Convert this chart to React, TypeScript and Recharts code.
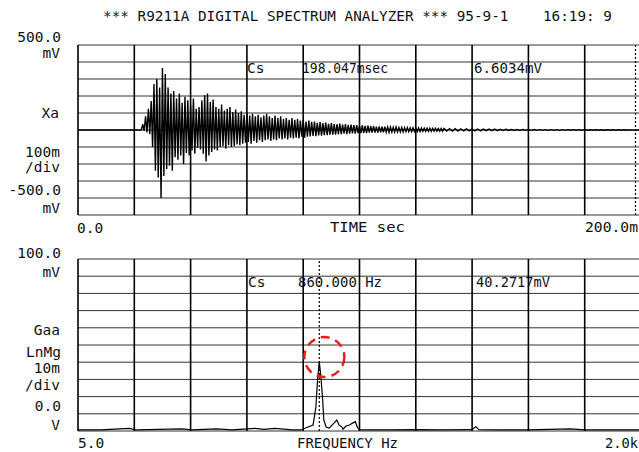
import React from 'react';
import { LineChart, Line, XAxis, YAxis, CartesianGrid, ReferenceLine, ReferenceDot } from 'recharts';

// ---- time record (top panel), envelope ----
const envTimeMs = [
  22, 23, 24, 25, 26, 27, 28, 29, 30, 31,
  32, 33, 34, 35, 36, 37, 38, 39, 40, 41,
  42, 43, 44, 45, 46, 47, 48, 49, 50, 51,
  52, 53, 54, 55, 56, 57, 58, 59, 60, 61,
  62, 63, 64, 65, 66, 67, 68, 69, 70, 71,
  72, 73, 74, 75, 76, 77, 78, 79, 80, 81,
  82, 83, 84, 85, 86, 87, 88, 89, 90, 91,
  92, 93, 94, 95, 96, 97, 98, 99, 100, 101,
  102, 103, 104, 105, 106, 107, 108, 109, 110, 111,
  112, 113, 114, 115, 116, 117, 118, 119, 120, 121,
  122, 123, 124, 125, 126, 127, 128, 129, 130, 132,
  134, 136, 138, 140, 142, 144, 146, 148, 150, 152,
  154, 156, 158, 160, 162, 164, 166, 168, 170, 172,
  174, 176, 178, 180, 182, 184, 186, 188, 190, 192,
  194, 196, 199,
];
const envHighMv = [
  0, 35, 80, 125, 170, 270, 300, 250, 365, 330,
  250, 215, 230, 185, 215, 160, 195, 175, 145, 185,
  125, 135, 175, 205, 215, 165, 180, 135, 125, 150,
  115, 125, 135, 105, 120, 100, 110, 90, 100, 85,
  95, 80, 90, 75, 85, 95, 80, 70, 85, 70,
  80, 65, 70, 60, 70, 60, 65, 55, 60, 50,
  55, 48, 50, 42, 46, 40, 44, 36, 40, 35,
  34, 38, 32, 34, 30, 31, 28, 29, 26, 27,
  24, 25, 22, 23, 20, 21, 19, 20, 18, 17,
  16, 17, 15, 15, 14, 14, 13, 13, 12, 12,
  11, 11, 11, 10, 10, 10, 9, 9, 9, 8,
  8, 7, 7, 6, 6, 5, 5, 5, 4, 4,
  3, 3, 3, 3, 3, 2, 2, 2, 2, 2,
  2, 2, 2, 2, 1, 1, 1, 1, 1, 1,
  1, 1, 0,
];
const envLowMv = [
  0, -5, -15, -25, -100, -240, -280, -400, -270, -230,
  -210, -240, -160, -175, -150, -200, -135, -150, -120, -140,
  -105, -115, -140, -185, -150, -130, -115, -120, -100, -95,
  -110, -90, -100, -95, -85, -90, -80, -75, -70, -80,
  -65, -75, -60, -70, -60, -55, -65, -55, -60, -50,
  -55, -50, -55, -45, -50, -45, -50, -40, -45, -40,
  -38, -35, -36, -32, -34, -30, -30, -28, -28, -27,
  -25, -24, -22, -24, -22, -20, -21, -19, -18, -17,
  -18, -16, -16, -15, -15, -14, -14, -13, -13, -12,
  -12, -11, -11, -11, -10, -10, -10, -9, -9, -9,
  -8, -8, -8, -8, -7, -7, -7, -7, -6, -6,
  -6, -5, -5, -5, -5, -4, -4, -4, -3, -3,
  -3, -3, -2, -2, -2, -2, -2, -2, -2, -2,
  -1, -1, -1, -1, -1, -1, -1, -1, -1, -1,
  -1, -1, 0,
];

// ---- spectrum (bottom panel) ----
const freqHz = [
  5, 87, 187, 212, 372, 408, 497, 550, 632, 664, 703, 764, 795, 820, 838, 848, 854, 860, 866, 872,
  876, 884, 895, 912, 922, 930, 940, 944, 955, 967, 978, 988, 994, 1000, 1010, 1100, 1200, 1300, 1400, 1415,
  1425, 1500, 1600, 1750, 1800, 1900, 2000,
];
const magMv = [
  0.6, 0.6, 1.5, 0.6, 1.2, 0.6, 1.2, 0.6, 1.5, 1.0, 1.5, 0.6, 0.6, 2.3, 3.5, 14, 30, 40.3, 31, 18,
  6.4, 2.3, 1.7, 4.6, 6.4, 3.5, 2.3, 1.0, 2.9, 3.5, 4.6, 5.4, 2.5, 1.0, 0.6, 0.6, 0.8, 0.6, 0.8, 2.5,
  0.8, 0.6, 0.7, 1.2, 0.6, 0.6, 0.6,
];

const timeTicks = [0, 20, 40, 60, 80, 100, 120, 140, 160, 180, 200];
const voltTicks = [-500, -400, -300, -200, -100, 0, 100, 200, 300, 400, 500];
const freqTicks = [5, 204.5, 404, 603.5, 803, 1002.5, 1202, 1401.5, 1601, 1800.5, 2000];
const magTicks = [0, 10, 20, 30, 40, 50, 60, 70, 80, 90, 100];

const waveData: { t: number; v: number }[] = [{ t: 0, v: 0 }];
envTimeMs.forEach((t, i) => {
  const next = i < envTimeMs.length - 1 ? envTimeMs[i + 1] : t + 1;
  waveData.push({ t, v: envHighMv[i] });
  waveData.push({ t: t + (next - t) / 2, v: envLowMv[i] });
});
waveData.push({ t: 200, v: 0 });

const specData = freqHz.map((f, i) => ({ f, m: magMv[i] }));

const FONT = '"DejaVu Sans Mono", "Liberation Mono", monospace';

const T: React.FC<{ x: number; y: number; w?: number; end?: boolean; size?: number; children: string }> = ({ x, y, w, end, size = 14.5, children }) => (
  <text
    x={x}
    y={y}
    fontFamily={FONT}
    fontSize={size}
    fill="#111"
    textAnchor={end ? 'end' : 'start'}
    textLength={w}
    lengthAdjust={w ? 'spacingAndGlyphs' : undefined}
    style={{ whiteSpace: 'pre' }}
  >
    {children}
  </text>
);

const App: React.FC = () => {
  return (
    <div style={{ position: 'absolute', left: 0, top: 0, width: 639, height: 452, overflow: 'hidden', background: '#fff' }}>
      <div style={{ position: 'absolute', left: 0, top: 0 }}>
        <LineChart width={645} height={240} data={waveData} margin={{ top: 45, right: 4, bottom: 25, left: 78 }}>
          <CartesianGrid horizontal vertical={false} stroke="#333" strokeWidth={1} />
          <CartesianGrid horizontal={false} vertical stroke="#000" strokeWidth={1.6} />
          <XAxis type="number" dataKey="t" domain={[0, 200]} ticks={timeTicks} interval={0} hide />
          <YAxis type="number" domain={[-500, 500]} ticks={voltTicks} interval={0} hide />
          <ReferenceLine x={198.047} stroke="#000" strokeDasharray="2 2" strokeWidth={1.2} />
          <Line type="linear" dataKey="v" stroke="#000" strokeWidth={1.4} dot={false} isAnimationActive={false} />
        </LineChart>
      </div>
      <div style={{ position: 'absolute', left: 0, top: 240 }}>
        <LineChart width={645} height={212} data={specData} margin={{ top: 19, right: 4, bottom: 21, left: 78 }}>
          <CartesianGrid horizontal vertical={false} stroke="#333" strokeWidth={1} />
          <CartesianGrid horizontal={false} vertical stroke="#000" strokeWidth={1.6} />
          <XAxis type="number" dataKey="f" domain={[5, 2000]} ticks={freqTicks} interval={0} hide />
          <YAxis type="number" domain={[0, 100]} ticks={magTicks} interval={0} hide />
          <ReferenceLine x={860} stroke="#000" strokeDasharray="2 2" strokeWidth={1.2} />
          <Line type="linear" dataKey="m" stroke="#000" strokeWidth={1.2} dot={false} isAnimationActive={false} />
          <ReferenceDot x={878} y={43} r={20} fill="none" stroke="#e8201a" strokeWidth={2.5} strokeDasharray="9 6" />
        </LineChart>
      </div>
      <svg width={639} height={452} style={{ position: 'absolute', left: 0, top: 0, pointerEvents: 'none' }}>
        <T x={103} y={21} w={509}>*** R9211A DIGITAL SPECTRUM ANALYZER *** 95-9-1    16:19: 9</T>

        <T x={61} y={42} end>500.0</T>
        <T x={60} y={58} end>mV</T>
        <T x={59} y={118} end>Xa</T>
        <T x={60} y={157} end>100m</T>
        <T x={60} y={172} end>/div</T>
        <T x={61} y={195} end>-500.0</T>
        <T x={60} y={213} end>mV</T>
        <T x={77} y={233}>0.0</T>
        <T x={330} y={232} w={75}>TIME sec</T>
        <T x={585} y={232} w={53}>200.0m</T>

        <T x={247} y={73}>Cs</T>
        <T x={302} y={73} w={86}>198.047msec</T>
        <T x={474} y={73} w={68}>6.6034mV</T>

        <T x={61} y={258} end>100.0</T>
        <T x={60} y={277} end>mV</T>
        <T x={60} y={335} end>Gaa</T>
        <T x={61} y={357} end>LnMg</T>
        <T x={60} y={373} end>10m</T>
        <T x={60} y={390} end>/div</T>
        <T x={61} y={411} end>0.0</T>
        <T x={60} y={430} end>V</T>

        <T x={248} y={287}>Cs</T>
        <T x={298} y={287} w={84}>860.000 Hz</T>
        <T x={476} y={287} w={74}>40.2717mV</T>

        <T x={78} y={448}>5.0</T>
        <T x={297} y={448} w={101}>FREQUENCY Hz</T>
        <T x={605} y={448} w={33}>2.0k</T>
      </svg>
    </div>
  );
};

export default App;
